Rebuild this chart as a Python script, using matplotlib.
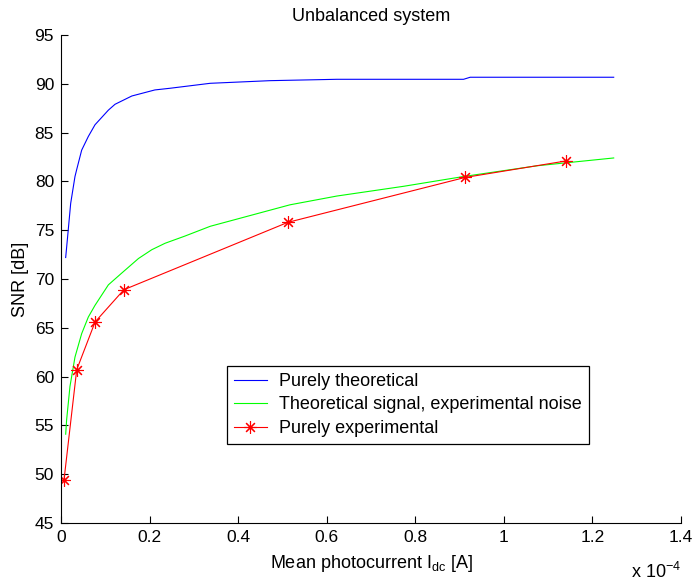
import matplotlib
matplotlib.use("Agg")
import matplotlib.pyplot as plt
import numpy as np

# フォント設定 (MATLAB風)
plt.rcParams["font.family"] = ["Liberation Sans", "DejaVu Sans"]
plt.rcParams["mathtext.fontset"] = "custom"
plt.rcParams["mathtext.rm"] = "Liberation Sans"
plt.rcParams["mathtext.it"] = "Liberation Sans:italic"

# データ (x は 1e-4 A 単位)
x_theory = [0.0106, 0.0143, 0.0219, 0.0316, 0.0354, 0.0467, 0.0617, 0.0768, 0.107, 0.122,
            0.160, 0.212, 0.246, 0.337, 0.472, 0.623, 0.909, 0.924, 1.248]
snr_theory = [72.2, 74.0, 77.75, 80.5, 81.2, 83.2, 84.6, 85.8, 87.3, 87.9,
              88.75, 89.37, 89.54, 90.05, 90.32, 90.46, 90.46, 90.67, 90.67]

x_mixed = [0.0106, 0.0128, 0.0203, 0.0316, 0.0467, 0.0617, 0.0768, 0.107, 0.137, 0.175,
           0.205, 0.235, 0.280, 0.337, 0.517, 0.623, 0.774, 0.909, 1.075, 1.248]
snr_mixed = [54.1, 55.6, 59.0, 62.0, 64.4, 66.1, 67.3, 69.4, 70.6, 72.1,
             73.0, 73.66, 74.4, 75.4, 77.6, 78.5, 79.5, 80.5, 81.6, 82.4]

x_exp = [0.0068, 0.0355, 0.077, 0.142, 0.512, 0.912, 1.141]
snr_exp = [49.4, 60.7, 65.6, 68.9, 75.8, 80.4, 82.1]

x_ticks = [0, 0.2, 0.4, 0.6, 0.8, 1.0, 1.2, 1.4]
x_tick_labels = ["0", "0.2", "0.4", "0.6", "0.8", "1", "1.2", "1.4"]
y_ticks = [45, 50, 55, 60, 65, 70, 75, 80, 85, 90, 95]

fs = 13

fig = plt.figure(figsize=(6.93, 5.86), dpi=100)
ax = fig.add_axes([0.088, 0.1075, 0.8947, 0.8328])

ax.plot(x_theory, snr_theory, color=(0, 0, 1), lw=0.8, label="Purely theoretical")
ax.plot(x_mixed, snr_mixed, color=(0, 1, 0), lw=0.8, label="Theoretical signal, experimental noise")
ax.plot(x_exp, snr_exp, color=(1, 0, 0), lw=0.8, marker=(8, 2, 0), markersize=9,
        markeredgewidth=0.8, label="Purely experimental")

ax.set_xlim(0, 1.4)
ax.set_ylim(45, 95)
ax.set_xticks(x_ticks)
ax.set_xticklabels(x_tick_labels)
ax.set_yticks(y_ticks)
ax.tick_params(direction="in", length=5, width=0.8, labelsize=12.5, pad=5)
ax.spines["top"].set_visible(False)
ax.spines["right"].set_visible(False)
ax.spines["left"].set_linewidth(0.8)
ax.spines["bottom"].set_linewidth(0.8)

ax.set_title("Unbalanced system", fontsize=fs, pad=10)
ax.set_xlabel(r"Mean photocurrent I$_{\rm dc}$ [A]", fontsize=fs, labelpad=6)
ax.set_ylabel("SNR [dB]", fontsize=fs, labelpad=4)
ax.text(1.0, -0.1127, r"x 10$^{-4}$", transform=ax.transAxes, ha="right", va="baseline", fontsize=fs)

leg = ax.legend(loc="upper left", bbox_to_anchor=(0.268, 0.322), borderaxespad=0,
                fancybox=False, edgecolor="black", fontsize=fs, handlelength=1.8,
                borderpad=0.39, labelspacing=0.36, handletextpad=0.67, framealpha=1)
leg.get_frame().set_linewidth(0.9)

fig.savefig("out.png", dpi=100)
